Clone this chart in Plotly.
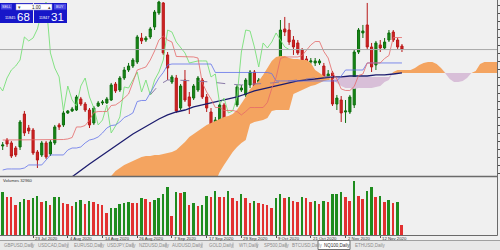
import plotly.graph_objects as go

W, H = 500, 250

# ---------------- data ----------------
bars = list(range(93))
opens = [10640,10715,10678,10615,10628,11040,10865,10840,10565,10528,
         10678,10540,10678,10903,10903,11053,11078,11090,11228,11165,
         11090,10928,11140,11178,11178,11215,11415,11340,11490,11590,
         11640,11690,11990,11965,12003,12128,12303,12428,11778,11440,
         11490,11115,11465,11253,11240,11340,11465,11253,11065,10878,
         10965,11153,10803,10865,11153,11340,11278,11403,11565,11340,
         11478,11315,11453,11565,11715,12103,12090,11965,11928,11840,
         11728,11690,11678,11678,11640,11490,11553,11165,11215,11065,
         11065,11153,11815,12053,12153,11878,11653,11903,11865,11965,
         12065,11965,11890]
highs = [10690,10740,10703,10640,10965,11078,10903,10865,10590,10703,
         10703,10715,10903,10928,11078,11090,11128,11278,11253,11190,
         11115,11140,11203,11215,11253,11428,11440,11515,11628,11678,
         11740,12028,12053,12015,12128,12340,12455,12440,11815,11528,
         11528,11415,11590,11315,11415,11515,11490,11290,11115,11003,
         11178,11178,10915,11028,11403,11403,11490,11590,11590,11490,
         11515,11490,11590,11740,12215,12253,12178,12015,11965,11865,
         11765,11740,11740,11728,11678,11590,11578,11278,11265,11215,
         11278,11840,12115,12153,12428,11928,11953,11965,11990,12090,
         12090,11990,11915]
lows = [10590,10628,10490,10503,10590,10765,10790,10528,10365,10503,
        10478,10515,10653,10840,10878,11040,11065,11078,11140,11065,
        10865,10903,11128,11153,11165,11203,11303,11315,11465,11565,
        11615,11665,11915,11940,11978,12090,12278,11778,11465,11415,
        11053,11090,11190,11040,11215,11315,11228,11065,10865,10653,
        10940,10678,10653,10778,11128,11315,11253,11365,11278,11303,
        11253,11290,11428,11553,11703,12015,11903,11778,11778,11653,
        11640,11665,11640,11653,11465,11465,11140,11090,10940,10928,
        11040,11115,11790,11990,11840,11565,11590,11815,11840,11940,
        11940,11853,11815]
closes = [10653,10665,10515,10528,10940,10803,10828,10553,10465,10678,
          10503,10690,10878,10878,11053,11078,11103,11253,11165,11090,
          10903,11115,11178,11190,11228,11403,11328,11490,11590,11640,
          11715,12003,11953,11990,12103,12315,12440,11803,11615,11503,
          11078,11390,11215,11140,11390,11490,11253,11115,10903,10965,
          11153,10803,10890,11003,11378,11365,11465,11565,11315,11465,
          11278,11465,11565,11715,12090,12065,11940,11878,11803,11678,
          11690,11703,11703,11703,11503,11540,11165,11240,11053,11078,
          11253,11815,12090,12078,11878,11628,11928,11865,11940,12053,
          11965,11878,11846]
volumes = [142700,126200,124300,98900,109800,117700,115400,121000,128500,109800,
           113100,98900,124300,126200,104500,101200,95600,107800,115400,102200,
           112100,107800,102200,98900,71500,88000,90000,102200,104500,109800,
           106500,104500,121000,117700,109800,115400,121000,134100,159900,63600,
           142700,139400,140700,98900,104500,96600,98900,129500,126200,145000,
           126200,125200,146000,121000,112100,134100,121000,106500,112100,104500,
           102200,98900,90000,121000,134100,121000,124300,112100,109800,124300,
           121000,109800,112100,101200,112100,109800,134100,136100,140700,126200,
           112100,178000,129500,117700,145000,157200,126200,127600,107800,115400,
           104500,109800,32960]
tenkan = [10715,10715,10715,10715,10715,10715,10715,10715,10721,10721,
          10721,10721,10721,10721,10721,10728,10746,10878,10878,10896,
          10965,11059,11071,11071,11071,11146,11153,11190,11246,11290,
          11434,11590,11609,11628,11715,11828,11965,12015,11965,11940,
          11759,11759,11759,11753,11753,11740,11428,11315,11228,11121,
          11121,11084,11084,11084,11071,11028,11071,11121,11121,11121,
          11121,11184,11359,11496,11734,11753,11753,11753,11753,11771,
          11840,11903,11946,11946,11821,11740,11553,11478,11353,11334,
          11334,11384,11521,11540,11678,11678,11678,11678,11734,11771,
          11996,11996,11996]
kijun = [10340,10353,10353,10353,10353,10365,10403,10403,10403,10403,
         10465,10528,10528,10528,10528,10590,10615,10615,10628,10678,
         10715,10728,10753,10803,10865,10896,10903,10940,10996,11021,
         11053,11196,11209,11209,11303,11409,11490,11559,11653,11665,
         11665,11665,11665,11665,11665,11665,11665,11665,11665,11559,
         11559,11559,11559,11559,11559,11559,11559,11559,11559,11559,
         11559,11559,11546,11453,11453,11453,11453,11453,11453,11453,
         11453,11453,11453,11453,11453,11453,11453,11453,11515,11590,
         11590,11590,11590,11590,11678,11678,11678,11678,11678,11678,
         11678,11678,11678]
span_start = 22
span_a = [10090,10140,10190,10265,10328,10365,10403,10428,10453,10478,
          10503,10515,10515,10528,10528,10540,10553,10565,10590,10640,
          10690,10753,10790,10828,10865,10903,10928,10953,10978,11003,
          11015,11040,11090,11165,11253,11353,11403,11453,11528,11615,
          11703,11753,11765,11765,11740,11728,11728,11715,11715,11678,
          11590,11553,11515,11490,11478,11428,11390,11365,11365,11353,
          11365,11365,11365,11365,11378,11390,11440,11465,11565,11590,
          11590,11590,11590,11615,11653,11678,11690,11690,11665,11615,
          11540,11478,11440,11440,11453,11490,11553,11578,11665,11690,
          11690,11690,11690]
span_b = ([10028] * 27 +
          [10190,10315,10403,10490,10565,10628,10678,10715,10915,10940,
           10953,10965,10990,11078,11090,11090,11090,11090,11290,11315,
           11340,11365,11390,11403,11428,11453,11465,11478,11490] +
          [11503] * 12 + [11553] * 25)
ma_bars = [15,18,20,22,24,26,28,30,32,34,36,38,40,42,44,46,48,50,52,54,56,58,60,
           62,64,66,68,70,72,74,76,78,80,82,84,86,88,90,92]
ma_vals = [10215,10340,10415,10490,10565,10640,10715,10790,10853,10915,10978,11028,
           11065,11090,11128,11153,11178,11203,11228,11253,11290,11328,11353,11378,
           11403,11428,11453,11465,11478,11490,11503,11503,11515,11515,11515,11528,
           11528,11540,11553]
dash_bars = [34,36,38,40,44,48,52,55,58,62,66,70,74,78]
dash_vals = [11278,11403,11465,11465,11453,11440,11415,11403,11415,11428,11453,11478,11503,11515]
bid_price = 11845.68
chikou_shift = 26
label_bars = [-1, 7, 15, 23, 31, 39, 47, 55, 63, 71, 79, 87]
label_texts = ["13 Jul 2020", "23 Jul 2020", "4 Aug 2020", "14 Aug 2020", "26 Aug 2020",
               "7 Sep 2020", "17 Sep 2020", "29 Sep 2020", "9 Oct 2020", "21 Oct 2020",
               "2 Nov 2020", "12 Nov 2020"]
tab_names = ["GBPUSD,Daily", "USDCAD,Daily", "EURUSD,Daily", "USDJPY,Daily", "NZDUSD,Daily",
             "AUDUSD,Daily", "GOLD,Daily", "WTI,Daily", "SP500,Daily", "BTCUSD,Daily",
             "NQ100,Daily", "ETHUSD,Daily"]
tab_x = [2, 36, 72, 105, 137, 170, 207, 237, 262, 290, 322, 353]
tab_sep_x = [32, 68, 101, 133, 166, 202, 233, 257, 286]
active_tab = "NQ100,Daily"
volume_label = "Volumes 32960"
sell_big, sell_small = "68", "11845"
buy_big, buy_small = "31", "11847"
lot_text = "1.00"

# ---------------- helpers (pixel -> paper) ----------------
def fx(px):
    return px / W

def fy(py):
    return 1 - py / H

FONT = "Liberation Sans"
X_RANGE = [-0.62, 113.9]
Y_RANGE = [10265, 12465]
VOL_RANGE = [0, 188000]

fig = go.Figure()

# Ichimoku cloud
span_x = [span_start + k for k in range(len(span_a))]
upper = [max(a, b) for a, b in zip(span_a, span_b)]
fig.add_trace(go.Scatter(x=span_x, y=span_b, mode="lines", line=dict(width=0),
                         showlegend=False, hoverinfo="skip"))
fig.add_trace(go.Scatter(x=span_x, y=upper, mode="lines", line=dict(width=0),
                         fill="tonexty", fillcolor="#f4a460", showlegend=False, hoverinfo="skip"))
fig.add_trace(go.Scatter(x=span_x, y=span_a, mode="lines", line=dict(width=0),
                         showlegend=False, hoverinfo="skip"))
fig.add_trace(go.Scatter(x=span_x, y=upper, mode="lines", line=dict(width=0),
                         fill="tonexty", fillcolor="#d8bfd8", showlegend=False, hoverinfo="skip"))

# moving averages
fig.add_trace(go.Scatter(x=ma_bars, y=ma_vals, mode="lines",
                         line=dict(color="#1c1c6e", width=1.3), showlegend=False, hoverinfo="skip"))
fig.add_trace(go.Scatter(x=dash_bars, y=dash_vals, mode="lines",
                         line=dict(color="#8a7aa8", width=1, dash="dash"), showlegend=False, hoverinfo="skip"))
# Ichimoku lines
fig.add_trace(go.Scatter(x=[b - chikou_shift for b in bars], y=closes, mode="lines",
                         line=dict(color="#78e078", width=0.9), showlegend=False, hoverinfo="skip"))
fig.add_trace(go.Scatter(x=bars, y=kijun, mode="lines", line=dict(color="#6272ea", width=0.8),
                         showlegend=False, hoverinfo="skip"))
fig.add_trace(go.Scatter(x=bars, y=tenkan, mode="lines", line=dict(color="#e46868", width=0.8),
                         showlegend=False, hoverinfo="skip"))

# candles
fig.add_trace(go.Candlestick(x=bars, open=opens, high=highs, low=lows, close=closes,
                             increasing=dict(line=dict(color="#0e6e0e", width=1), fillcolor="#168a16"),
                             decreasing=dict(line=dict(color="#b81818", width=1), fillcolor="#d02424"),
                             whiskerwidth=0, showlegend=False, hoverinfo="skip"))

# volumes
vol_colors = ["#1e8c1e" if (k == 0 or volumes[k] > volumes[k - 1]) else "#e23030"
              for k in range(len(volumes))]
fig.add_trace(go.Bar(x=bars, y=volumes, marker=dict(color=vol_colors, line=dict(width=0)),
                     width=0.45, xaxis="x2", yaxis="y2", showlegend=False, hoverinfo="skip"))

shapes = []
annotations = []

# bid line
shapes.append(dict(type="line", xref="x", yref="y", x0=X_RANGE[0], x1=X_RANGE[1],
                   y0=bid_price, y1=bid_price, line=dict(color="#a8a8a8", width=1)))

# frame lines
shapes.append(dict(type="line", xref="paper", yref="paper", x0=0, x1=fx(497.5),
                   y0=fy(176.5), y1=fy(176.5), line=dict(color="#6a6a6a", width=1.5)))
shapes.append(dict(type="line", xref="paper", yref="paper", x0=0, x1=fx(497.5),
                   y0=fy(235.5), y1=fy(235.5), line=dict(color="#6a6a6a", width=1)))
shapes.append(dict(type="line", xref="paper", yref="paper", x0=fx(497.5), x1=fx(497.5),
                   y0=fy(0), y1=fy(235.5), line=dict(color="#6a6a6a", width=1)))

# tab row
shapes.append(dict(type="rect", xref="paper", yref="paper", x0=0, x1=1, y0=fy(250), y1=fy(240.5),
                   fillcolor="#e8e8e8", line=dict(width=0), layer="below"))
shapes.append(dict(type="line", xref="paper", yref="paper", x0=0, x1=1, y0=fy(240.5), y1=fy(240.5),
                   line=dict(color="#a0a0a0", width=1)))
for sx in tab_sep_x:
    shapes.append(dict(type="line", xref="paper", yref="paper", x0=fx(sx), x1=fx(sx),
                       y0=fy(242.5), y1=fy(248), line=dict(color="#b4b4b4", width=1)))
ai = tab_names.index(active_tab)
shapes.append(dict(type="rect", xref="paper", yref="paper", x0=fx(tab_x[ai] - 4), x1=fx(tab_x[ai] + 28),
                   y0=fy(249.5), y1=fy(240.5), fillcolor="#ffffff", line=dict(color="#707070", width=1)))
for name, tx in zip(tab_names, tab_x):
    annotations.append(dict(xref="paper", yref="paper", x=fx(tx), y=fy(245.3), text=name,
                            showarrow=False, xanchor="left", yanchor="middle",
                            font=dict(family=FONT, size=4.5,
                                      color="#303030" if name == active_tab else "#8c8c8c")))

# date labels
for b, t in zip(label_bars, label_texts):
    annotations.append(dict(xref="x2", yref="paper", x=b, y=fy(238.3), text=t, showarrow=False,
                            xanchor="left", yanchor="middle", xshift=0,
                            font=dict(family=FONT, size=4.3, color="#303030")))

# volume window label
annotations.append(dict(xref="paper", yref="paper", x=fx(1), y=fy(180), text=volume_label,
                        showarrow=False, xanchor="left", yanchor="middle",
                        font=dict(family=FONT, size=4.2, color="#303030")))

# one-click trading panel
PANEL = "#1717c9"
BTN = "#4848e4"
shapes.append(dict(type="rect", xref="paper", yref="paper", x0=fx(0), x1=fx(33), y0=fy(23), y1=fy(3),
                   fillcolor=PANEL, line=dict(width=0)))
shapes.append(dict(type="rect", xref="paper", yref="paper", x0=fx(34), x1=fx(67), y0=fy(23), y1=fy(3),
                   fillcolor=PANEL, line=dict(width=0)))
shapes.append(dict(type="rect", xref="paper", yref="paper", x0=fx(1), x1=fx(12), y0=fy(9.5), y1=fy(4),
                   fillcolor=BTN, line=dict(width=0)))
shapes.append(dict(type="rect", xref="paper", yref="paper", x0=fx(54), x1=fx(66), y0=fy(9.5), y1=fy(4),
                   fillcolor=BTN, line=dict(width=0)))
shapes.append(dict(type="rect", xref="paper", yref="paper", x0=fx(16), x1=fx(52), y0=fy(10), y1=fy(4),
                   fillcolor="#ffffff", line=dict(color="#8a8ac8", width=0.5)))
for txt, x0, size in [("SELL", 6.5, 3.6), ("BUY", 60, 3.6)]:
    annotations.append(dict(xref="paper", yref="paper", x=fx(x0), y=fy(6.8), text=txt, showarrow=False,
                            xanchor="center", yanchor="middle",
                            font=dict(family=FONT, size=size, color="#e8e8ff")))
annotations.append(dict(xref="paper", yref="paper", x=fx(36), y=fy(7), text=lot_text, showarrow=False,
                        xanchor="center", yanchor="middle", font=dict(family=FONT, size=4.5, color="#202020")))
annotations.append(dict(xref="paper", yref="paper", x=fx(19), y=fy(7), text="▾", showarrow=False,
                        xanchor="center", yanchor="middle", font=dict(family=FONT, size=4.5, color="#505050")))
annotations.append(dict(xref="paper", yref="paper", x=fx(49), y=fy(7), text="▴", showarrow=False,
                        xanchor="center", yanchor="middle", font=dict(family=FONT, size=4.5, color="#505050")))
for small, big, x_small, x_big in [(sell_small, sell_big, 2.5, 15), (buy_small, buy_big, 36.5, 49)]:
    annotations.append(dict(xref="paper", yref="paper", x=fx(x_small), y=fy(18.5), text=small,
                            showarrow=False, xanchor="left", yanchor="middle",
                            font=dict(family=FONT, size=3.8, color="#ffffff")))
    annotations.append(dict(xref="paper", yref="paper", x=fx(x_big), y=fy(16.5), text=big,
                            showarrow=False, xanchor="left", yanchor="middle",
                            font=dict(family=FONT, size=11.5, color="#ffffff")))

fig.update_layout(
    width=W, height=H,
    margin=dict(l=0, r=0, t=0, b=0),
    paper_bgcolor="#f0f0f0", plot_bgcolor="#f0f0f0",
    showlegend=False,
    font=dict(family=FONT),
    shapes=shapes, annotations=annotations,
    xaxis=dict(domain=[0, fx(497)], range=X_RANGE, showgrid=False, zeroline=False,
               showticklabels=False, rangeslider=dict(visible=False), fixedrange=True),
    yaxis=dict(domain=[fy(176), 1], range=Y_RANGE, side="right", showgrid=False, zeroline=False,
               showticklabels=False, ticks="outside", ticklen=3, tickcolor="#505050",
               dtick=100, tick0=0),
    xaxis2=dict(domain=[0, fx(497)], range=X_RANGE, matches="x", anchor="y2", showgrid=False,
                zeroline=False, showticklabels=False, ticks="outside", ticklen=2, tickcolor="#505050",
                tickmode="array", tickvals=label_bars),
    yaxis2=dict(domain=[fy(235), fy(178)], range=VOL_RANGE, side="right", showgrid=False,
                zeroline=False, showticklabels=False),
    bargap=0,
)

fig.write_html("out.html", config=dict(displayModeBar=False))
